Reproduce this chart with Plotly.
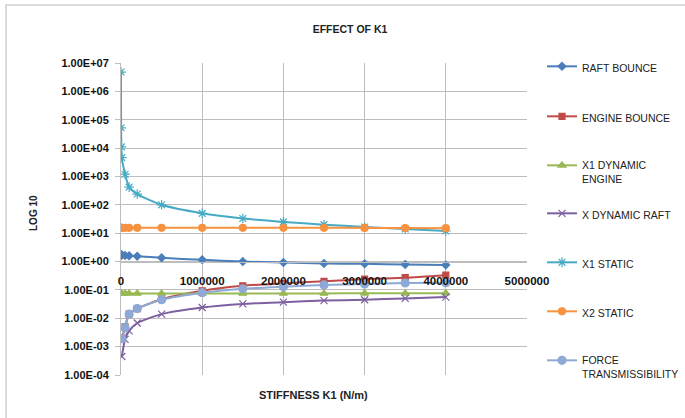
import plotly.graph_objects as go

# Stiffness K1 (N/m) sample points
K1 = [10, 1000, 5000, 10000, 50000, 100000, 200000, 500000,
      1000000, 1500000, 2000000, 2500000, 3000000, 3500000, 4000000]

raft_bounce = [1.7, 1.7, 1.7, 1.7, 1.65, 1.6, 1.55, 1.35,
               1.15, 1.0, 0.92, 0.86, 0.83, 0.79, 0.76]
engine_bounce = [None, None, None, 0.002, 0.005, 0.014, 0.022, 0.047,
                 0.093, 0.14, 0.17, 0.20, 0.24, 0.27, 0.33]
x1_dynamic_engine = [0.075, 0.075, 0.075, 0.075, 0.075, 0.075, 0.075, 0.075,
                     0.075, 0.075, 0.075, 0.075, 0.076, 0.076, 0.077]
x_dynamic_raft = [None, None, None, 0.00045, 0.0018, 0.0036, 0.0068, 0.014,
                  0.024, 0.032, 0.037, 0.042, 0.045, 0.05, 0.056]
x1_static = [4.8e6, 5.2e4, 1.1e4, 4.6e3, 1200, 420, 240, 100,
             50, 33, 25, 20, 16.5, 14, 12]
x2_static = [15.5, 15.5, 15.5, 15.5, 15.5, 15.5, 15.5, 15.5,
             15.5, 15.5, 15.5, 15.5, 15.3, 15.2, 15.0]
force_transmissibility = [None, None, None, 0.0019, 0.0046, 0.014, 0.022, 0.045,
                          0.08, 0.11, 0.13, 0.15, 0.16, 0.175, 0.18]

x_ticks = [0, 1000000, 2000000, 3000000, 4000000, 5000000]
y_ticks = [1e-4, 1e-3, 1e-2, 1e-1, 1e0, 1e1, 1e2, 1e3, 1e4, 1e5, 1e6, 1e7]
y_tick_text = ["1.00E-04", "1.00E-03", "1.00E-02", "1.00E-01", "1.00E+00",
               "1.00E+01", "1.00E+02", "1.00E+03", "1.00E+04", "1.00E+05",
               "1.00E+06", "1.00E+07"]

series = [
    ("RAFT BOUNCE", raft_bounce, "#4A7EBB", "diamond", 6),
    ("ENGINE BOUNCE", engine_bounce, "#BE4B48", "square", 6),
    ("X1 DYNAMIC<br>ENGINE", x1_dynamic_engine, "#98B954", "triangle-up", 7),
    ("X DYNAMIC RAFT", x_dynamic_raft, "#7D60A0", "x-thin-open", 7),
    ("X1 STATIC", x1_static, "#46AAC5", "asterisk-open", 8),
    ("X2 STATIC", x2_static, "#F69240", "circle", 7),
    ("FORCE<br>TRANSMISSIBILITY", force_transmissibility, "#8EA9D6", "circle", 8),
]

# legend rows (first-line centre, in pixels from the top)
legend_rows = [68, 118, 167, 215, 264, 313, 362]

FONT = "Liberation Sans, Arial, sans-serif"
W, H = 685, 418
L, R, T, B = 121, 158, 63, 43
pw, ph = W - L - R, H - T - B

fig = go.Figure()
legend_layouts = {}
for i, (name, vals, color, sym, size) in enumerate(series):
    lg = "legend" if i == 0 else f"legend{i + 1}"
    fig.add_trace(go.Scatter(
        x=K1, y=vals, name=name, mode="lines+markers",
        line=dict(color=color, width=2, shape="spline", smoothing=0.6),
        marker=dict(symbol=sym, size=size, color=color,
                    line=dict(color=color, width=1.2)),
        legend=lg, connectgaps=False,
    ))
    row_top = legend_rows[i] - 15
    legend_layouts[lg] = dict(
        x=(542 - L) / pw, xanchor="left",
        y=1 - (row_top - T) / ph, yanchor="top",
        bgcolor="rgba(0,0,0,0)", borderwidth=0, valign="top",
        font=dict(family=FONT, size=10.5, color="#222"),
        itemwidth=30,
    )

fig.update_layout(
    width=W, height=H,
    margin=dict(l=L, r=R, t=T, b=B, autoexpand=False),
    paper_bgcolor="white", plot_bgcolor="white",
    showlegend=True,
    title=dict(text="<b>EFFECT OF K1</b>", x=350 / W, xanchor="center",
               y=1 - 29 / H, yanchor="middle",
               font=dict(family=FONT, size=10.5, color="#222")),
    xaxis=dict(
        range=[0, 5000000], tickvals=x_ticks, ticktext=[str(v) for v in x_ticks],
        showgrid=True, gridcolor="#BDBDBD", gridwidth=1,
        zeroline=False, showline=True, linecolor="#BDBDBD", linewidth=1,
        anchor="free", position=4 / 11, ticks="", ticklabelstandoff=9,
        tickfont=dict(family=FONT, size=11.5, color="#111", weight="bold"),
    ),
    yaxis=dict(
        type="log", range=[-4, 7], tickvals=y_ticks, ticktext=y_tick_text,
        showgrid=True, gridcolor="#BDBDBD", gridwidth=1,
        zeroline=False, showline=True, linecolor="#BDBDBD", linewidth=1,
        ticks="outside", ticklen=5, tickcolor="#BDBDBD", ticklabelstandoff=4,
        tickfont=dict(family=FONT, size=11, color="#111", weight="bold"),
    ),
    **legend_layouts,
)

fig.add_annotation(text="<b>STIFFNESS K1 (N/m)</b>", xref="paper", yref="paper",
                   x=(313 - L) / pw, y=1 - (395 - T) / ph, showarrow=False,
                   xanchor="center", yanchor="middle",
                   font=dict(family=FONT, size=11, color="#222"))
fig.add_annotation(text="<b>LOG 10</b>", xref="paper", yref="paper",
                   x=(33 - L) / pw, y=1 - (213 - T) / ph, showarrow=False, textangle=-90,
                   xanchor="center", yanchor="middle",
                   font=dict(family=FONT, size=10, color="#222"))

# chart-area frame
fig.add_shape(type="rect", xref="paper", yref="paper",
              x0=(6 - L) / pw, x1=(690 - L) / pw, y0=1 - (420 - T) / ph, y1=1 - (5 - T) / ph,
              line=dict(color="#D0D0D0", width=1.5), layer="below")

fig.write_html("out.html")
